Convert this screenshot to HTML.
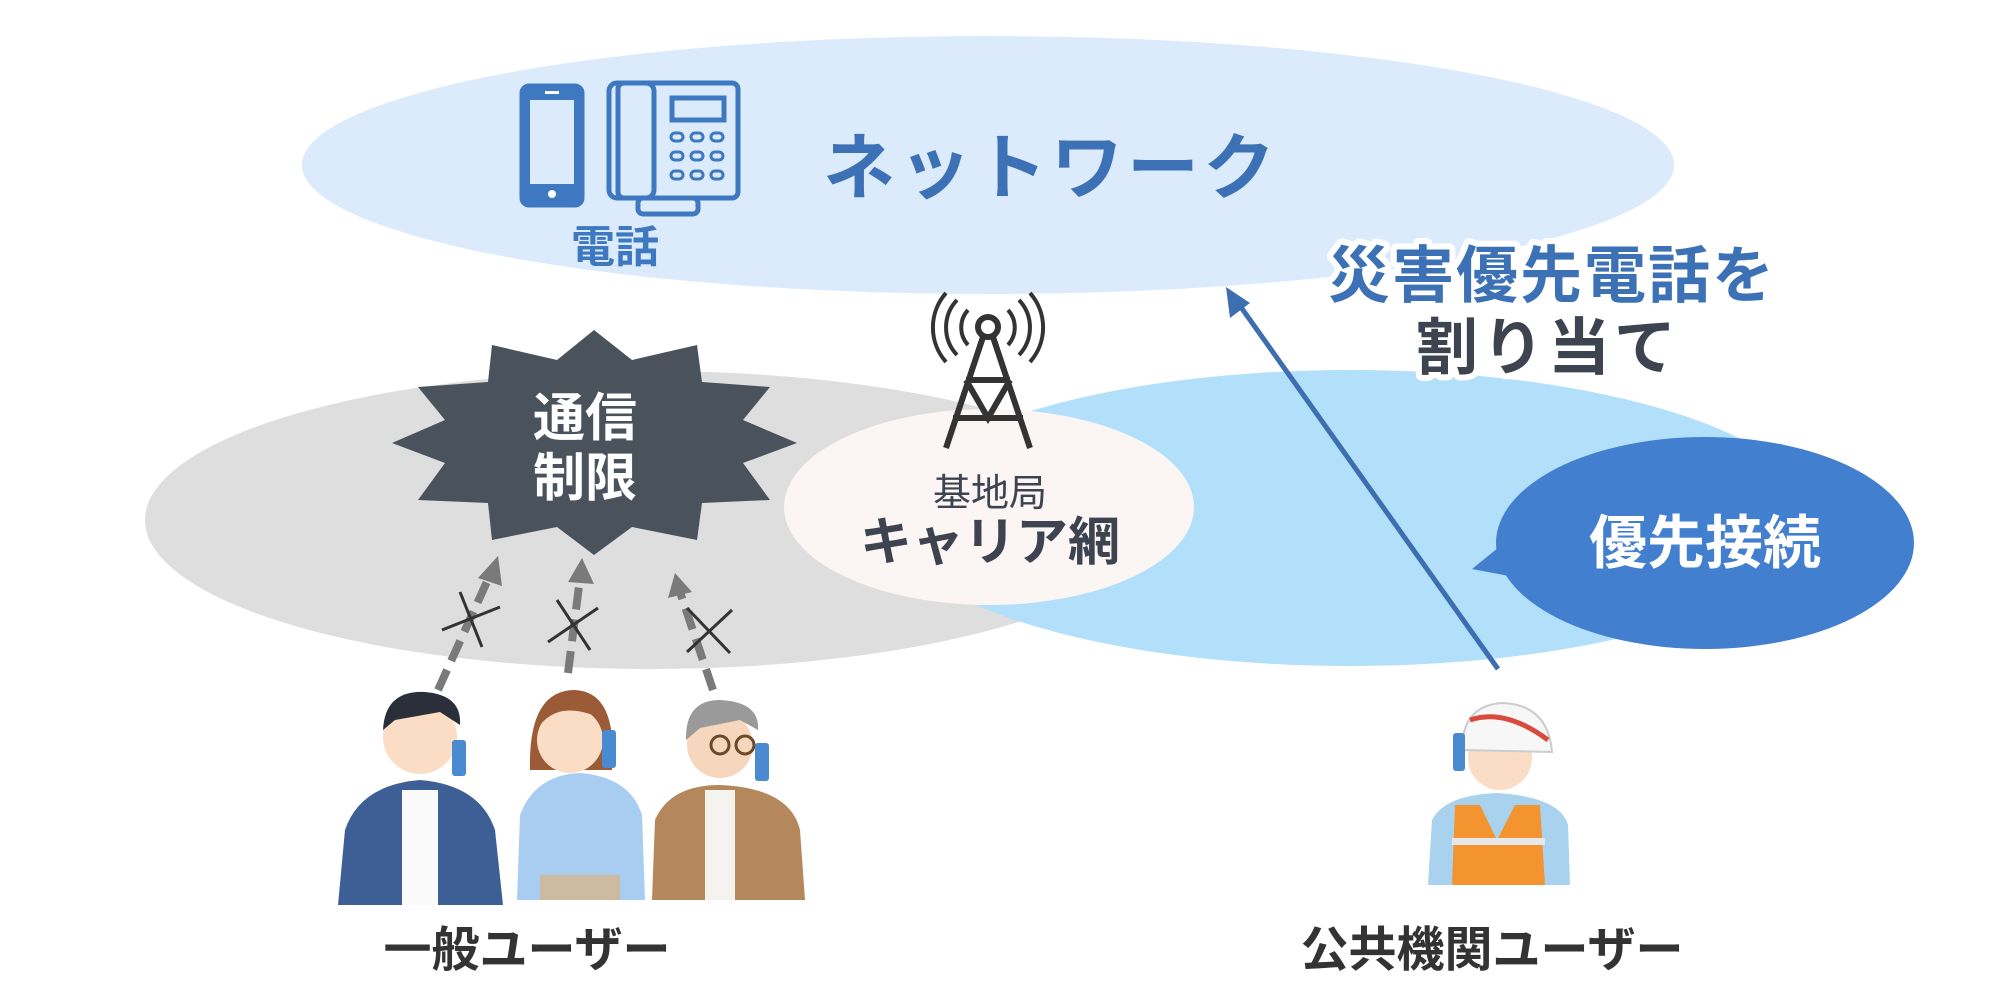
<!DOCTYPE html>
<html><head><meta charset="utf-8"><style>
html,body{margin:0;padding:0;background:#fff;}
svg{display:block;}
text{font-family:"Liberation Sans","Noto Sans CJK JP",sans-serif;font-weight:bold;}
</style></head><body>
<svg width="2016" height="984" viewBox="0 0 2016 984" xmlns="http://www.w3.org/2000/svg">
<rect width="2016" height="984" fill="#fff"/>
<!-- top network ellipse -->
<ellipse cx="988" cy="165" rx="686" ry="129" fill="#dcebfb"/>
<!-- gray & blue regions -->
<ellipse cx="650" cy="520" rx="505" ry="149" fill="#dedede"/>
<ellipse cx="1350" cy="518" rx="462" ry="148" fill="#b2e0fb"/>
<ellipse cx="989" cy="507" rx="205" ry="98" fill="#fbf6f4"/>
<!-- speech bubble -->
<ellipse cx="1705" cy="543" rx="209" ry="106" fill="#427fcf"/>
<polygon points="1472,569 1520,530 1530,580" fill="#427fcf"/>
<text x="1705" y="563" font-size="58" fill="#fff" text-anchor="middle">優先接続</text>
<!-- phone icons -->
<g fill="none" stroke="#3d78c0" stroke-width="5">
<rect x="522" y="86" width="60" height="119" rx="7" fill="#3d78c0"/>
<rect x="530" y="100" width="44" height="84" fill="#dcebfb" stroke="none"/>
<rect x="609" y="83" width="45" height="115" rx="8"/>
<rect x="618" y="83" width="120" height="115" rx="6"/>
<rect x="638" y="198" width="60" height="16" rx="5"/>
<rect x="672" y="98" width="52" height="22"/>
</g>
<circle cx="552" cy="194" r="4" fill="#fff"/>
<rect x="545" y="91" width="14" height="3" fill="#fff"/>
<g fill="none" stroke="#3d78c0" stroke-width="3">
<rect x="671" y="133" width="12" height="8" rx="4"/><rect x="691" y="133" width="12" height="8" rx="4"/><rect x="711" y="133" width="12" height="8" rx="4"/>
<rect x="671" y="152" width="12" height="8" rx="4"/><rect x="691" y="152" width="12" height="8" rx="4"/><rect x="711" y="152" width="12" height="8" rx="4"/>
<rect x="671" y="171" width="12" height="8" rx="4"/><rect x="691" y="171" width="12" height="8" rx="4"/><rect x="711" y="171" width="12" height="8" rx="4"/>
</g>
<text x="615" y="262" font-size="44" fill="#3d78c0" text-anchor="middle">電話</text>
<text x="1051" y="193" font-size="72" fill="#3c72b5" text-anchor="middle" letter-spacing="4">ネットワーク</text>
<!-- tower -->
<g fill="none" stroke="#333" stroke-width="6">
<circle cx="988" cy="327" r="10"/>
<path d="M983 337 L946 448 M993 337 L1030 448 M966 380 L1010 380 M953 418 L1023 418 M966 380 L988 418 L1010 380"/>
<path d="M968 310 A26 26 0 0 0 968 345 M1008 310 A26 26 0 0 1 1008 345" stroke-width="4"/>
<path d="M957 300 A40 40 0 0 0 957 355 M1019 300 A40 40 0 0 1 1019 355" stroke-width="4"/>
<path d="M946 293 A52 52 0 0 0 946 362 M1030 293 A52 52 0 0 1 1030 362" stroke-width="4"/>
</g>
<text x="990" y="506" font-size="38" fill="#3d4450" text-anchor="middle" font-weight="normal" style="font-weight:normal">基地局</text>
<text x="990" y="560" font-size="52" fill="#3d4450" text-anchor="middle">キャリア網</text>
<!-- starburst -->
<polygon fill="#4a525c" points="594,330 632,360 697,345 702,382 770,387 743,420 797,443 743,463 770,500 702,503 697,540 632,527 594,555 557,527 492,540 488,503 418,500 445,463 392,443 445,420 418,387 488,382 492,345 557,360"/>
<text x="585" y="436" font-size="52" fill="#fff" text-anchor="middle">通信</text>
<text x="585" y="496" font-size="52" fill="#fff" text-anchor="middle">制限</text>
<!-- dashed arrows -->
<g stroke="#7a7a7a" stroke-width="8" stroke-dasharray="22,10" fill="none">
<line x1="438" y1="690" x2="490" y2="575"/>
<line x1="568" y1="673" x2="580" y2="578"/>
<line x1="713" y1="690" x2="680" y2="592"/>
</g>
<g fill="#7a7a7a">
<polygon points="498,556 478,578 502,586"/>
<polygon points="582,558 568,582 594,584"/>
<polygon points="675,573 668,598 692,592"/>
</g>
<g stroke="#333" stroke-width="3">
<line x1="460" y1="592" x2="482" y2="647"/><line x1="442" y1="630" x2="500" y2="607"/>
<line x1="557" y1="600" x2="590" y2="650"/><line x1="548" y1="642" x2="598" y2="608"/>
<line x1="687" y1="608" x2="730" y2="653"/><line x1="687" y1="652" x2="732" y2="610"/>
</g>
<!-- people -->
<g>
<path d="M338 905 L345 830 Q360 785 420 780 Q480 785 495 830 L503 905 Z" fill="#3e5f96"/>
<rect x="402" y="790" width="36" height="115" fill="#fafafa"/>
<circle cx="420" cy="737" r="37" fill="#fbdcc5"/>
<path d="M383 730 Q385 690 425 692 Q462 695 460 725 L440 712 L395 720 Z" fill="#2a2f3a"/>
<rect x="452" y="740" width="14" height="36" rx="3" fill="#4a8ad0"/>
<path d="M517 900 L520 815 Q535 775 580 773 Q630 777 642 815 L645 900 Z" fill="#a9cdf0"/>
<rect x="540" y="875" width="80" height="25" fill="#cdbba1"/>
<path d="M530 770 Q528 690 575 690 Q618 692 612 770 Z" fill="#9b5b36"/>
<circle cx="570" cy="740" r="33" fill="#fbdcc5"/>
<path d="M540 725 Q560 700 600 718 L600 705 Q570 690 540 712 Z" fill="#9b5b36"/>
<rect x="602" y="730" width="14" height="38" rx="3" fill="#4a8ad0"/>
<path d="M652 900 L655 820 Q670 785 720 785 Q790 788 800 830 L805 900 Z" fill="#b5875d"/>
<rect x="705" y="790" width="30" height="110" fill="#f5f3ee"/>
<circle cx="720" cy="745" r="33" fill="#f6d6bd"/>
<path d="M686 740 Q685 700 720 700 Q760 702 758 730 L740 720 L700 728 Z" fill="#9a9a9a"/>
<circle cx="720" cy="745" r="9" fill="none" stroke="#6b4a2a" stroke-width="3"/>
<circle cx="745" cy="745" r="9" fill="none" stroke="#6b4a2a" stroke-width="3"/>
<rect x="755" y="743" width="14" height="38" rx="3" fill="#4a8ad0"/>
</g>
<text x="527" y="966" font-size="48" fill="#333" text-anchor="middle">一般ユーザー</text>
<!-- worker -->
<g>
<path d="M1428 885 L1432 820 Q1445 795 1497 793 Q1560 797 1568 825 L1570 885 Z" fill="#a9d2ef"/>
<path d="M1455 805 L1480 805 L1497 840 L1515 805 L1540 805 L1545 885 L1452 885 Z" fill="#f49430"/>
<rect x="1452" y="838" width="93" height="7" fill="#e8e8e8"/>
<circle cx="1500" cy="758" r="32" fill="#fbdcc5"/>
<path d="M1462 750 Q1462 705 1503 703 Q1548 705 1552 752 Z" fill="#f7f7f7" stroke="#ccc" stroke-width="2"/>
<path d="M1470 720 Q1505 708 1548 740" stroke="#d84a3a" stroke-width="5" fill="none"/>
<rect x="1453" y="733" width="12" height="38" rx="3" fill="#4a8ad0"/>
</g>
<text x="1492" y="966" font-size="48" fill="#333" text-anchor="middle">公共機関ユーザー</text>
<!-- blue arrow -->
<line x1="1498" y1="669" x2="1238" y2="303" stroke="#3d6eb0" stroke-width="5"/>
<polygon points="1226,287 1230,318 1250,303" fill="#3d6eb0"/>
<!-- label -->
<g font-size="62" text-anchor="middle" stroke="#fff" stroke-width="12" stroke-linejoin="round" paint-order="stroke">
<text x="1552" y="297" fill="#3c72b5" letter-spacing="2">災害優先電話を</text>
<text x="1548" y="369" fill="#3d4450" letter-spacing="4">割り当て</text>
</g>
</svg>
</body></html>
